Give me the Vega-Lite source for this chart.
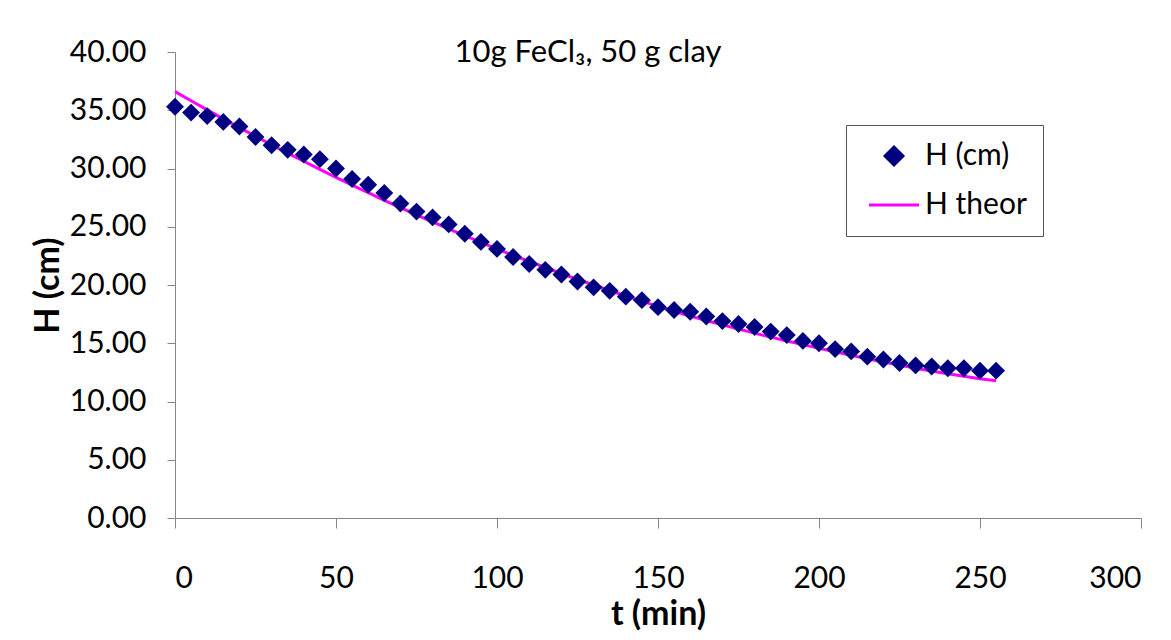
{
  "$schema": "https://vega.github.io/schema/vega-lite/v6.json",
  "width": 966,
  "height": 466,
  "autosize": {"type": "none"},
  "padding": {"left": 175, "top": 52, "right": 30, "bottom": 122},
  "background": "white",
  "title": {
    "text": "10g FeCl₃, 50 g clay",
    "anchor": "middle",
    "dx": -70,
    "dy": 36,
    "font": "Lato",
    "fontSize": 31,
    "fontWeight": "normal",
    "color": "#000000"
  },
  "datasets": {
    "measured": [
      {"t": 0, "H": 35.3, "series": "H (cm)"},
      {"t": 5, "H": 34.8, "series": "H (cm)"},
      {"t": 10, "H": 34.5, "series": "H (cm)"},
      {"t": 15, "H": 34.0, "series": "H (cm)"},
      {"t": 20, "H": 33.6, "series": "H (cm)"},
      {"t": 25, "H": 32.7, "series": "H (cm)"},
      {"t": 30, "H": 32.0, "series": "H (cm)"},
      {"t": 35, "H": 31.6, "series": "H (cm)"},
      {"t": 40, "H": 31.2, "series": "H (cm)"},
      {"t": 45, "H": 30.8, "series": "H (cm)"},
      {"t": 50, "H": 30.0, "series": "H (cm)"},
      {"t": 55, "H": 29.1, "series": "H (cm)"},
      {"t": 60, "H": 28.6, "series": "H (cm)"},
      {"t": 65, "H": 27.9, "series": "H (cm)"},
      {"t": 70, "H": 27.0, "series": "H (cm)"},
      {"t": 75, "H": 26.3, "series": "H (cm)"},
      {"t": 80, "H": 25.8, "series": "H (cm)"},
      {"t": 85, "H": 25.2, "series": "H (cm)"},
      {"t": 90, "H": 24.4, "series": "H (cm)"},
      {"t": 95, "H": 23.7, "series": "H (cm)"},
      {"t": 100, "H": 23.1, "series": "H (cm)"},
      {"t": 105, "H": 22.4, "series": "H (cm)"},
      {"t": 110, "H": 21.8, "series": "H (cm)"},
      {"t": 115, "H": 21.3, "series": "H (cm)"},
      {"t": 120, "H": 20.9, "series": "H (cm)"},
      {"t": 125, "H": 20.3, "series": "H (cm)"},
      {"t": 130, "H": 19.8, "series": "H (cm)"},
      {"t": 135, "H": 19.5, "series": "H (cm)"},
      {"t": 140, "H": 19.0, "series": "H (cm)"},
      {"t": 145, "H": 18.7, "series": "H (cm)"},
      {"t": 150, "H": 18.1, "series": "H (cm)"},
      {"t": 155, "H": 17.85, "series": "H (cm)"},
      {"t": 160, "H": 17.7, "series": "H (cm)"},
      {"t": 165, "H": 17.3, "series": "H (cm)"},
      {"t": 170, "H": 16.9, "series": "H (cm)"},
      {"t": 175, "H": 16.65, "series": "H (cm)"},
      {"t": 180, "H": 16.4, "series": "H (cm)"},
      {"t": 185, "H": 16.0, "series": "H (cm)"},
      {"t": 190, "H": 15.7, "series": "H (cm)"},
      {"t": 195, "H": 15.2, "series": "H (cm)"},
      {"t": 200, "H": 15.0, "series": "H (cm)"},
      {"t": 205, "H": 14.5, "series": "H (cm)"},
      {"t": 210, "H": 14.3, "series": "H (cm)"},
      {"t": 215, "H": 13.85, "series": "H (cm)"},
      {"t": 220, "H": 13.6, "series": "H (cm)"},
      {"t": 225, "H": 13.3, "series": "H (cm)"},
      {"t": 230, "H": 13.1, "series": "H (cm)"},
      {"t": 235, "H": 13.0, "series": "H (cm)"},
      {"t": 240, "H": 12.85, "series": "H (cm)"},
      {"t": 245, "H": 12.85, "series": "H (cm)"},
      {"t": 250, "H": 12.65, "series": "H (cm)"},
      {"t": 255, "H": 12.65, "series": "H (cm)"}
    ],
    "theory": [
      {"t": 0, "H": 36.6, "series": "H theor"},
      {"t": 5, "H": 35.81, "series": "H theor"},
      {"t": 10, "H": 35.03, "series": "H theor"},
      {"t": 15, "H": 34.26, "series": "H theor"},
      {"t": 20, "H": 33.51, "series": "H theor"},
      {"t": 25, "H": 32.77, "series": "H theor"},
      {"t": 30, "H": 32.04, "series": "H theor"},
      {"t": 35, "H": 31.32, "series": "H theor"},
      {"t": 40, "H": 30.62, "series": "H theor"},
      {"t": 45, "H": 29.92, "series": "H theor"},
      {"t": 50, "H": 29.24, "series": "H theor"},
      {"t": 55, "H": 28.57, "series": "H theor"},
      {"t": 60, "H": 27.92, "series": "H theor"},
      {"t": 65, "H": 27.27, "series": "H theor"},
      {"t": 70, "H": 26.64, "series": "H theor"},
      {"t": 75, "H": 26.02, "series": "H theor"},
      {"t": 80, "H": 25.41, "series": "H theor"},
      {"t": 85, "H": 24.82, "series": "H theor"},
      {"t": 90, "H": 24.23, "series": "H theor"},
      {"t": 95, "H": 23.66, "series": "H theor"},
      {"t": 100, "H": 23.1, "series": "H theor"},
      {"t": 105, "H": 22.55, "series": "H theor"},
      {"t": 110, "H": 22.02, "series": "H theor"},
      {"t": 115, "H": 21.5, "series": "H theor"},
      {"t": 120, "H": 20.98, "series": "H theor"},
      {"t": 125, "H": 20.49, "series": "H theor"},
      {"t": 130, "H": 20.0, "series": "H theor"},
      {"t": 135, "H": 19.53, "series": "H theor"},
      {"t": 140, "H": 19.06, "series": "H theor"},
      {"t": 145, "H": 18.61, "series": "H theor"},
      {"t": 150, "H": 18.17, "series": "H theor"},
      {"t": 155, "H": 17.75, "series": "H theor"},
      {"t": 160, "H": 17.33, "series": "H theor"},
      {"t": 165, "H": 16.95, "series": "H theor"},
      {"t": 170, "H": 16.58, "series": "H theor"},
      {"t": 175, "H": 16.22, "series": "H theor"},
      {"t": 180, "H": 15.87, "series": "H theor"},
      {"t": 185, "H": 15.53, "series": "H theor"},
      {"t": 190, "H": 15.2, "series": "H theor"},
      {"t": 195, "H": 14.88, "series": "H theor"},
      {"t": 200, "H": 14.57, "series": "H theor"},
      {"t": 205, "H": 14.26, "series": "H theor"},
      {"t": 210, "H": 13.96, "series": "H theor"},
      {"t": 215, "H": 13.67, "series": "H theor"},
      {"t": 220, "H": 13.39, "series": "H theor"},
      {"t": 225, "H": 13.12, "series": "H theor"},
      {"t": 230, "H": 12.86, "series": "H theor"},
      {"t": 235, "H": 12.61, "series": "H theor"},
      {"t": 240, "H": 12.38, "series": "H theor"},
      {"t": 245, "H": 12.16, "series": "H theor"},
      {"t": 250, "H": 11.96, "series": "H theor"},
      {"t": 255, "H": 11.78, "series": "H theor"}
    ]
  },
  "encoding": {
    "x": {
      "field": "t",
      "type": "quantitative",
      "scale": {"domain": [0, 300], "nice": false, "zero": false},
      "axis": {
        "title": "t (min)",
        "values": [0, 50, 100, 150, 200, 250, 300],
        "grid": false,
        "tickSize": 10,
        "labelPadding": 35,
        "titlePadding": 4
      }
    },
    "y": {
      "field": "H",
      "type": "quantitative",
      "scale": {"domain": [0, 40], "nice": false, "zero": false},
      "axis": {
        "title": "H (cm)",
        "values": [0, 5, 10, 15, 20, 25, 30, 35, 40],
        "format": ".2f",
        "grid": false,
        "tickSize": 8,
        "labelPadding": 21,
        "titlePadding": 4
      }
    },
    "color": {
      "field": "series",
      "type": "nominal",
      "scale": {"domain": ["H (cm)", "H theor"], "range": ["#000080", "#FF00FF"]},
      "legend": {
        "title": null,
        "orient": "none",
        "legendX": 671,
        "legendY": 73,
        "padding": 16,
        "symbolOffset": 17,
        "labelOffset": 16,
        "rowPadding": 19,
        "encode": {
          "symbols": {
            "update": {
              "stroke": {"signal": "datum.value === 'H theor' ? '#FF00FF' : 'transparent'"},
              "strokeWidth": {"value": 3}
            }
          }
        }
      }
    }
  },
  "layer": [
    {
      "data": {"name": "theory"},
      "mark": {"type": "line", "strokeWidth": 3}
    },
    {
      "data": {"name": "measured"},
      "mark": {"type": "point", "filled": true, "opacity": 1, "size": 320},
      "encoding": {
        "shape": {
          "field": "series",
          "type": "nominal",
          "scale": {"domain": ["H (cm)", "H theor"], "range": ["M-1,0L0,-1L1,0L0,1Z", "M-2.8,0L2.8,0"]},
          "legend": {
            "title": null,
            "orient": "none",
            "legendX": 671,
            "legendY": 73
          }
        }
      }
    }
  ],
  "config": {
    "font": "Lato",
    "view": {"stroke": null},
    "axis": {
      "domainColor": "#868686",
      "tickColor": "#868686",
      "domainWidth": 1,
      "tickWidth": 1,
      "labelFont": "Lato",
      "labelFontSize": 30,
      "labelColor": "#000000",
      "titleFont": "Lato",
      "titleFontSize": 34,
      "titleFontWeight": "bold",
      "titleColor": "#000000"
    },
    "legend": {
      "labelFont": "Lato",
      "labelFontSize": 30,
      "labelColor": "#000000",
      "strokeColor": "#555555",
      "fillColor": "#ffffff",
      "symbolSize": 320,
      "symbolOpacity": 1
    }
  }
}
